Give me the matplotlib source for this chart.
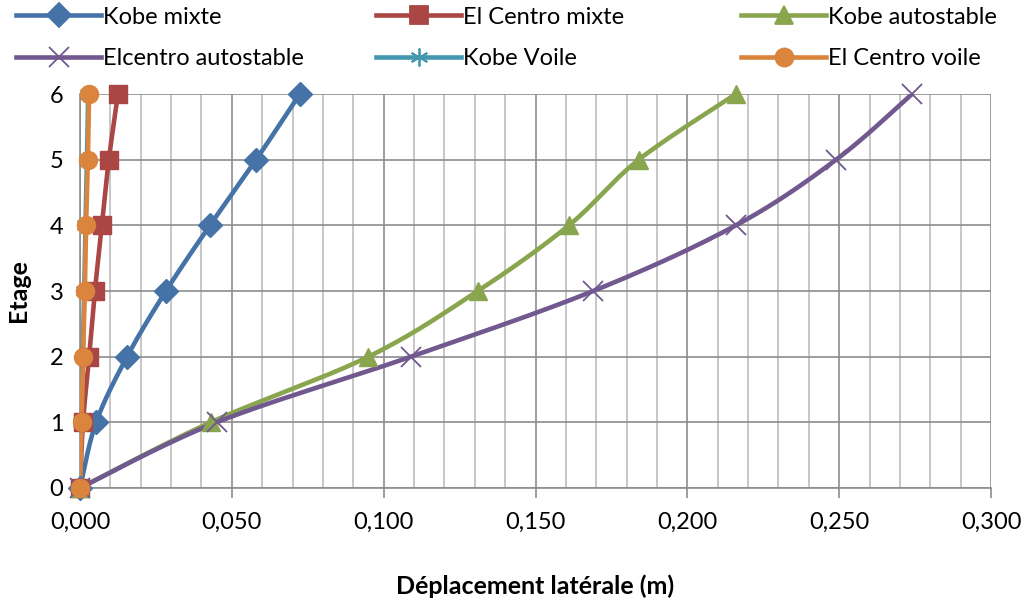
import numpy as np
import matplotlib
matplotlib.use("Agg")
import matplotlib.pyplot as plt
from matplotlib.ticker import MultipleLocator, FuncFormatter
from matplotlib.lines import Line2D

plt.rcParams['font.family'] = ['Lato', 'DejaVu Sans']

# Storey levels
etages = [0, 1, 2, 3, 4, 5, 6]

# Lateral displacement (m) per storey
kobe_mixte = [0.0, 0.0053, 0.0155, 0.0283, 0.0428, 0.0580, 0.0724]
elcentro_mixte = [0.0, 0.0010, 0.0030, 0.0049, 0.0072, 0.0095, 0.0125]
kobe_autostable = [0.0, 0.0430, 0.0950, 0.1310, 0.1610, 0.1840, 0.2160]
elcentro_autostable = [0.0, 0.0450, 0.1090, 0.1690, 0.2160, 0.2490, 0.2740]
kobe_voile = [0.0, 0.0004, 0.0009, 0.0014, 0.0018, 0.0023, 0.0027]
elcentro_voile = [0.0, 0.0005, 0.0010, 0.0016, 0.0020, 0.0026, 0.0030]

series_labels = ["Kobe mixte", "El Centro mixte", "Kobe autostable",
                 "Elcentro autostable", "Kobe Voile", "El Centro voile"]
series_values = [kobe_mixte, elcentro_mixte, kobe_autostable,
                 elcentro_autostable, kobe_voile, elcentro_voile]
colors = ["#4572A7", "#AA4643", "#89A54E", "#71588F", "#4198AF", "#DB843D"]
markers = ["D", "s", "^", "x", (6, 2, 0), "o"]
msizes = [12, 13, 13, 14, 13, 13]


def smooth(x, y, n=30):
    """Cubic Bezier smoothing through the points (Catmull-Rom style)."""
    pts = np.column_stack([x, y]).astype(float)
    m = len(pts)
    out = [pts[0]]
    t = np.linspace(0, 1, n)[1:, None]
    for i in range(m - 1):
        p0 = pts[i]
        p3 = pts[i + 1]
        pm = pts[i - 1] if i > 0 else pts[i]
        pp = pts[i + 2] if i + 2 < m else pts[i + 1]
        p1 = p0 + (p3 - pm) / 6.0
        p2 = p3 - (pp - p0) / 6.0
        seg = ((1 - t) ** 3) * p0 + 3 * ((1 - t) ** 2) * t * p1 \
            + 3 * (1 - t) * t ** 2 * p2 + t ** 3 * p3
        out.extend(seg)
    out = np.array(out)
    return out[:, 0], out[:, 1]


fig = plt.figure(figsize=(10.24, 6.02), dpi=100)
ax = fig.add_axes([80 / 1024, 1 - 488 / 602, (991 - 80) / 1024, (488 - 94) / 602])

for vals, c, mk, ms, lab in zip(series_values, colors, markers, msizes, series_labels):
    sx, sy = smooth(vals, etages)
    ax.plot(sx, sy, color=c, lw=3.3, solid_capstyle='round', zorder=3)
    thin = mk == "x" or isinstance(mk, tuple)
    ax.plot(vals, etages, linestyle='none', marker=mk, ms=ms, color=c,
            mec=c, mew=1.3 if thin else 1.0, zorder=4, clip_on=False)

ax.set_xlim(0, 0.300)
ax.set_ylim(0, 6)
ax.xaxis.set_major_locator(MultipleLocator(0.05))
ax.xaxis.set_minor_locator(MultipleLocator(0.01))
ax.yaxis.set_major_locator(MultipleLocator(1))
ax.xaxis.set_major_formatter(FuncFormatter(lambda v, p: f"{v:.3f}".replace(".", ",")))

ax.grid(which='major', axis='both', color='#8C8C8C', lw=1.2, zorder=1)
ax.grid(which='minor', axis='x', color='#BDBDBD', lw=1.2, zorder=1)
ax.set_axisbelow(True)

for s in ['top', 'right']:
    ax.spines[s].set_visible(False)
for s in ['left', 'bottom']:
    ax.spines[s].set_color('#8C8C8C')
    ax.spines[s].set_linewidth(1.2)

ax.tick_params(axis='x', which='major', length=7, width=1.2, color='#8C8C8C',
               labelsize=17, pad=10)
ax.tick_params(axis='x', which='minor', length=0)
ax.tick_params(axis='y', which='major', length=0, labelsize=17, pad=12)

ax.set_xlabel("Déplacement latérale (m)", fontsize=18, fontweight='bold', labelpad=30)
ax.set_ylabel("Etage", fontsize=18, fontweight='bold', labelpad=14)

# Legend laid out in three fixed-width columns
col_x = [16 / 1024, 376 / 1024, 741 / 1024]
columns = [[0, 3], [1, 4], [2, 5]]
for cx, idxs in zip(col_x, columns):
    handles = [Line2D([0], [0], color=colors[i], lw=3.3, marker=markers[i],
                      ms=msizes[i], mec=colors[i], mew=1.3) for i in idxs]
    labs = [series_labels[i] for i in idxs]
    fig.legend(handles, labs, loc='upper left', bbox_to_anchor=(cx, 0.989),
               frameon=False, fontsize=17, handlelength=3.6, handletextpad=0.1,
               labelspacing=0.88, borderaxespad=0, borderpad=0, numpoints=1)

fig.savefig("out.png", dpi=100)
